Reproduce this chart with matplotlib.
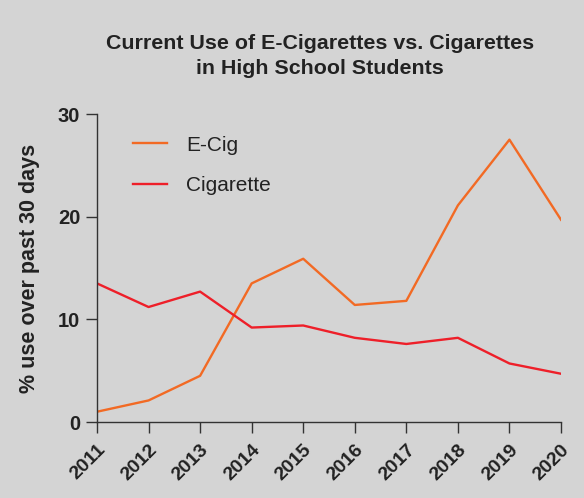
import matplotlib
matplotlib.use("Agg")
import matplotlib.pyplot as plt

years = [2011, 2012, 2013, 2014, 2015, 2016, 2017, 2018, 2019, 2020]
ecig = [1.0, 2.1, 4.5, 13.5, 15.9, 11.4, 11.8, 21.1, 27.5, 19.7]
cig = [13.5, 11.2, 12.7, 9.2, 9.4, 8.2, 7.6, 8.2, 5.7, 4.7]
yticks = [0, 10, 20, 30]

plt.rcParams['font.family'] = ['Liberation Sans', 'DejaVu Sans']
bg = '#d4d4d4'
fig = plt.figure(figsize=(5.84, 4.98), dpi=100, facecolor=bg)
ax = fig.add_axes([97/584, 1-422/498, (561-97)/584, (422-114)/498])
ax.set_facecolor(bg)

ax.plot(years, ecig, color='#f26a24', lw=1.7, label='E-Cig')
ax.plot(years, cig, color='#ee1f29', lw=1.7, label='Cigarette')

ax.set_xlim(2011, 2020)
ax.set_ylim(0, 30)
ax.set_yticks(yticks)
ax.set_xticks(years)
ax.set_xticklabels([str(y) for y in years], rotation=45, ha='right',
                   rotation_mode='anchor', fontweight='bold', fontsize=14, color='#222222')
for t in ax.get_yticklabels():
    t.set_fontweight('bold'); t.set_fontsize(14.5); t.set_color('#222222')
ax.tick_params(axis='both', direction='out', length=8, width=1, color='#333333', pad=4)
ax.tick_params(axis='x', pad=6)
for s in ['top', 'right']:
    ax.spines[s].set_visible(False)
for s in ['left', 'bottom']:
    ax.spines[s].set_color('#333333')
    ax.spines[s].set_linewidth(1)

ax.set_ylabel('% use over past 30 days', fontweight='bold', fontsize=15.5, color='#222222', labelpad=13)

leg = ax.legend(loc='upper left', bbox_to_anchor=(0.078, 0.93), frameon=False,
                borderaxespad=0, borderpad=0,
                fontsize=15, handlelength=1.6, handletextpad=0.95, labelspacing=1.02)
for t in leg.get_texts():
    t.set_color('#222222')

fig.text(320/584, 1-56/498, 'Current Use of E-Cigarettes vs. Cigarettes\nin High School Students',
         ha='center', va='center', fontsize=15.4, fontweight='bold', color='#222222', linespacing=1.35)

fig.savefig('out.png', dpi=100, facecolor=bg)
